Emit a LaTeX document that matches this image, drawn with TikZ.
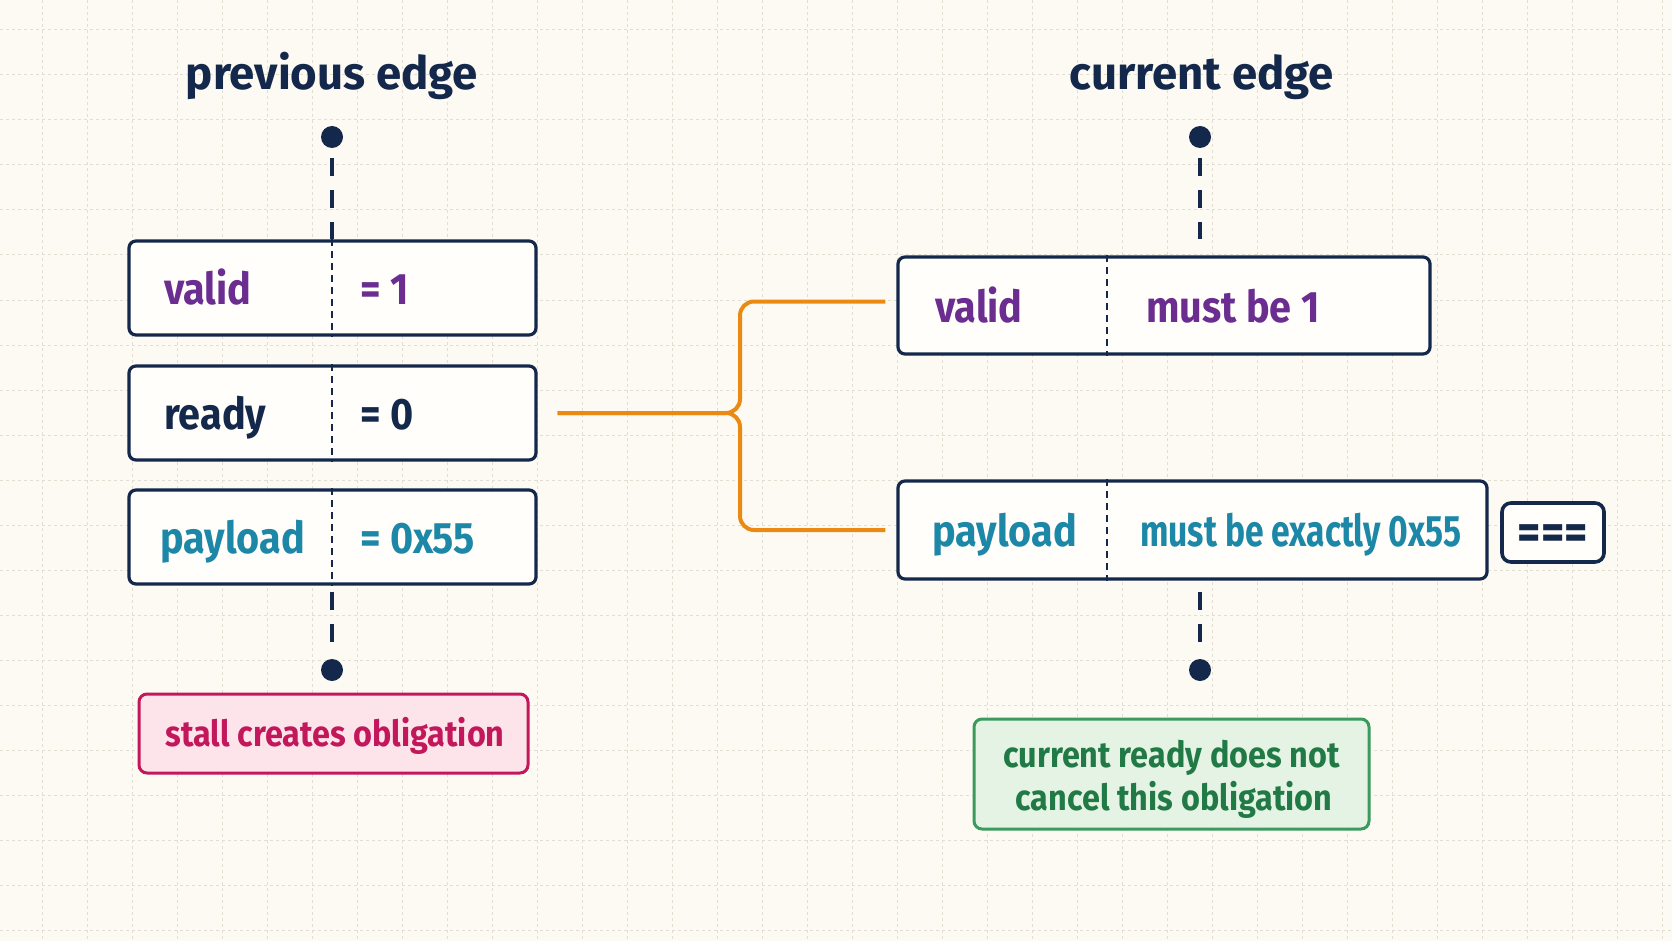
\documentclass[tikz,border=0pt]{standalone}
\usepackage{fontspec}
\setmainfont{Fira Sans}[FakeStretch=0.9]
\newfontfamily\ttlfont{Fira Sans}[FakeStretch=0.99]
\usepackage{graphicx}
\definecolor{navy}{HTML}{14284B}
\definecolor{vpurple}{HTML}{6B2D90}
\definecolor{vteal}{HTML}{1C87A7}
\definecolor{crimson}{HTML}{C2185B}
\definecolor{pinkfill}{HTML}{FCE4EA}
\definecolor{gline}{HTML}{3C9A5F}
\definecolor{gtext}{HTML}{217A45}
\definecolor{gfill}{HTML}{E4F3E4}
\definecolor{borange}{HTML}{EB8A12}
\definecolor{bgcol}{HTML}{FCFAF3}
\definecolor{gridcol}{HTML}{E2DED2}
\definecolor{boxfill}{HTML}{FFFEFB}
\begin{document}
\begin{tikzpicture}[x=1pt,y=-1pt,
  gridline/.style={gridcol,line width=1pt,dash pattern=on 3pt off 3pt},
  fieldbox/.style={draw=navy,fill=boxfill,line width=3.2pt,rounded corners=7pt,inner sep=0pt},
  lbl/.style={inner sep=0pt,anchor=base west,font=\fontsize{44}{48}\selectfont\bfseries},
  ttl/.style={inner sep=0pt,anchor=base,text=navy,font=\ttlfont\fontsize{46}{50}\selectfont\bfseries},
  note/.style={inner sep=0pt,anchor=base,font=\fontsize{36}{40}\selectfont\bfseries},
  dotn/.style={circle,fill=navy,minimum size=22pt,inner sep=0pt},
  stem/.style={navy,line width=3.2pt,dash pattern=on 18pt off 14pt},
  divider/.style={navy,line width=1.6pt,dash pattern=on 7pt off 5pt},
  bracket/.style={borange,line width=4pt,rounded corners=14pt}
]
\fill[bgcol] (0,0) rectangle (1672,941);
\useasboundingbox (0,0) rectangle (1672,941);
\foreach \x in {42,87,...,1670} \draw[gridline] (\x,0) -- (\x,941);
\foreach \y in {30,75,...,940} \draw[gridline] (0,\y) -- (1672,\y);

% titles
\node[ttl] (tprev) at (332,90) {previous edge};
\node[ttl] (tcur) at (1202,90) {current edge};

% dots
\node[dotn] (ltop) at (332,137) {};
\node[dotn] (lbot) at (332,670) {};
\node[dotn] (rtop) at (1200,137) {};
\node[dotn] (rbot) at (1200,670) {};

% left boxes
\node[fieldbox,minimum width=407pt,minimum height=94pt] (lvalid) at (332.5,288) {};
\node[fieldbox,minimum width=407pt,minimum height=94pt] (lready) at (332.5,413) {};
\node[fieldbox,minimum width=407pt,minimum height=94pt] (lpay) at (332.5,537) {};
\foreach \b in {lvalid,lready,lpay}
  \draw[divider] (\b.north -| ltop) -- (\b.south -| ltop);

\node[lbl,text=vpurple] (lvk) at (164,304) {valid};
\node[lbl,text=vpurple] (lvv) at (360,304) {= 1};
\node[lbl,text=navy] (lrk) at (164,429) {ready};
\node[lbl,text=navy] (lrv) at (360,429) {= 0};
\node[lbl,text=vteal] (lpk) at (160,553) {payload};
\node[lbl,text=vteal] (lpv) at (360,553) {= 0x55};

% right boxes
\coordinate (rdiv) at (1107,0);
\node[fieldbox,minimum width=532pt,minimum height=97pt] (rvalid) at (1164,305.5) {};
\node[fieldbox,minimum width=589pt,minimum height=98pt] (rpay) at (1192.5,530) {};
\foreach \b in {rvalid,rpay}
  \draw[divider] (\b.north -| rdiv) -- (\b.south -| rdiv);
\node[lbl,text=vpurple] (rvk) at (935,322) {valid};
\node[lbl,text=vpurple] (rvv) at (1146,322) {must be 1};
\node[lbl,text=vteal] (rpk) at (932,546) {payload};
\node[lbl,text=vteal] (rpv) at (1140,546) {\scalebox{0.85}[1]{must be exactly 0x55}};

% === box
\node[fieldbox,line width=3.6pt,rounded corners=9pt,minimum width=102pt,minimum height=59pt] (eqbox) at (1553,532.5) {};
\node[inner sep=0pt,anchor=base,text=navy,font=\fontsize{50}{54}\selectfont\bfseries] (eqt) at (eqbox.center |- 0,549) {===};

% stems
\draw[stem] ([yshift=-10pt]ltop.south) -- (ltop |- lvalid.north);
\draw[stem] ([yshift=-6pt]lbot |- lpay.south) -- ([yshift=14pt]lbot.north);
\draw[stem] ([yshift=-10pt]rtop.south) -- ([yshift=16pt]rtop |- rvalid.north);
\draw[stem] ([yshift=-11pt]rbot |- rpay.south) -- ([yshift=14pt]rbot.north);

% bracket
\coordinate (brk) at (740,413);
\draw[bracket] ([xshift=20pt]lready.east) -- (brk) |- ([xshift=-11pt,yshift=4pt]rvalid.west);
\draw[bracket] ([xshift=20pt]lready.east) -- (brk) |- ([xshift=-11pt]rpay.west);

% notes
\node[draw=crimson,fill=pinkfill,line width=3pt,rounded corners=8pt,minimum width=389pt,minimum height=79pt,inner sep=0pt] (stall) at (333.5,733.5) {};
\node[note,text=crimson] (stallt) at (335,746) {stall creates obligation};
\node[draw=gline,fill=gfill,line width=3pt,rounded corners=8pt,minimum width=395pt,minimum height=110pt,inner sep=0pt] (gbox) at (1171.5,774) {};
\node[note,text=gtext] (gt1) at (1171.5,767) {current ready does not};
\node[note,text=gtext] (gt2) at (1174,810) {cancel this obligation};
\end{tikzpicture}
\end{document}
